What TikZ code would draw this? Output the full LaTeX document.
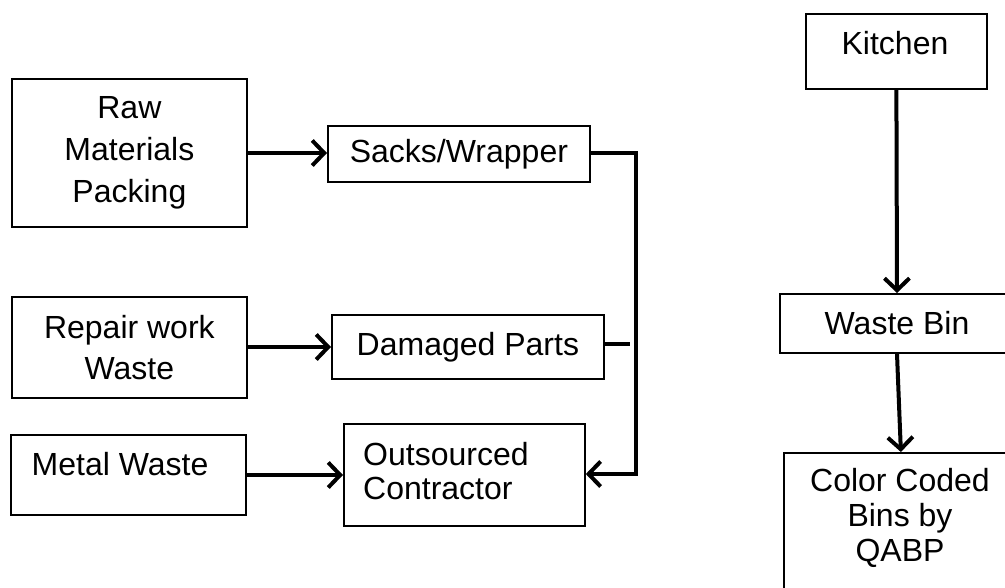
\documentclass[tikz,border=0pt]{standalone}
\usepackage{fontspec}
\setmainfont{Liberation Sans}
\usetikzlibrary{arrows.meta,calc}
\begin{document}
\begin{tikzpicture}[x=1pt,y=-1pt,
  box/.style={draw, line width=1.8pt, inner sep=0pt, anchor=north west, align=center,
    font=\fontsize{32}{42}\selectfont},
  txt/.style={inner sep=0pt, align=center, font=\fontsize{32}{35}\selectfont},
  conn/.style={line width=4pt},
  arr/.style={line width=4pt, -{Straight Barb[length=12pt,width=25pt]}}]
\useasboundingbox (0,0) rectangle (1005,587);
\clip (0,0) rectangle (1005,587);
% left column
\node[box, minimum width=235pt, minimum height=148pt] (raw) at (11,78) {Raw\\Materials\\Packing};
\node[box, minimum width=262pt, minimum height=56pt] (sacks) at (327,125) {Sacks/Wrapper};
\node[box, minimum width=235pt, minimum height=101pt, font=\fontsize{32}{41}\selectfont] (repair) at (11,296) {Repair work\\Waste};
\node[box, minimum width=272pt, minimum height=64pt] (damaged) at (331,314) {Damaged Parts};
\node[box, minimum width=235pt, minimum height=80pt] (metal) at (10,434) {};
\node[txt] (metaltxt) at (120,464) {Metal Waste};
\node[box, minimum width=241pt, minimum height=102pt] (outs) at (343,423) {};
\node[txt, anchor=west, align=left, font=\fontsize{32}{34}\selectfont] (outstxt) at (363,471) {Outsourced\\Contractor};
% right column
\node[box, minimum width=181pt, minimum height=75pt] (kitchen) at (805,13) {};
\node[txt] (kitchentxt) at (895,43) {Kitchen};
\node[box, minimum width=236pt, minimum height=59pt] (waste) at (779,293) {};
\node[txt] (wastetxt) at (897,323) {Waste Bin};
\node[box, minimum width=234pt, minimum height=170pt] (color) at (783,452) {};
\node[txt] (colortxt) at (900,518) {Color Coded\\Bins by\\QABP};
% connectors
\draw[arr] (raw.east |- 0,153) -- (sacks.west |- 0,153);
\draw[arr] (repair.east |- 0,347) -- (damaged.west |- 0,347);
\draw[arr] (metal.east |- 0,475) -- (outs.west |- 0,475);
\coordinate (bt) at (636,153);
\coordinate (bb) at (636,474);
\coordinate (dend) at (630,344);
\draw[arr] (sacks.east |- bt) -- (bt) -- (bb) -- (outs.east |- bb);
\draw[conn] (damaged.east |- dend) -- (dend);
\draw[arr] (kitchen.south) -- (waste.north -| 897,0);
\draw[arr] (waste.south -| 897,0) -- (color.north);
\end{tikzpicture}
\end{document}
